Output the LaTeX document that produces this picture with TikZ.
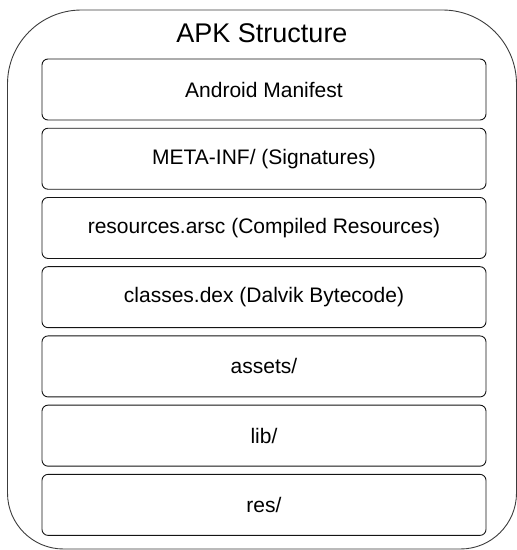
\documentclass[tikz,border=0pt]{standalone}
\usepackage{fontspec}
\setmainfont{Liberation Sans}
\usetikzlibrary{positioning}
\definecolor{myframe}{RGB}{60,60,60}
\definecolor{myline}{RGB}{20,20,20}

\begin{document}
\begin{tikzpicture}[x=1pt, y=1pt,
    part/.style={draw=myline, line width=0.9pt, rounded corners=6pt,
                 minimum width=444pt, minimum height=61pt, inner sep=0pt,
                 font=\fontsize{21}{25}\selectfont},
    every node/.style={text=black}]
  \useasboundingbox (0,0) rectangle (517,550);
  % --- outer rounded frame (larger radius on top) ---
  \draw[myframe, line width=0.9pt]
    (7.5,466) -- (7.5,57)
    arc[start angle=180, end angle=270, radius=56] -- (460.5,1)
    arc[start angle=270, end angle=360, radius=56] -- (516.5,466)
    arc[start angle=0, end angle=90, radius=74] -- (81.5,540)
    arc[start angle=90, end angle=180, radius=74] -- cycle;
  % --- title ---
  \node[anchor=base, font=\fontsize{27}{32}\selectfont] (title) at (262,507) {APK Structure};
  % --- stacked entries ---
  \node[part] (manifest) at (264,460.5) {Android Manifest};
  \node[part, below=7.33pt of manifest] (metainf) {META-INF/ (Signatures)};
  \node[part, below=7.33pt of metainf] (arsc) {resources.arsc (Compiled Resources)};
  \node[part, below=7.33pt of arsc] (dex) {classes.dex (Dalvik Bytecode)};
  \node[part, below=7.33pt of dex] (assets) {assets/};
  \node[part, below=7.33pt of assets] (lib) {lib/};
  \node[part, below=7.33pt of lib] (res) {res/};
\end{tikzpicture}
\end{document}
